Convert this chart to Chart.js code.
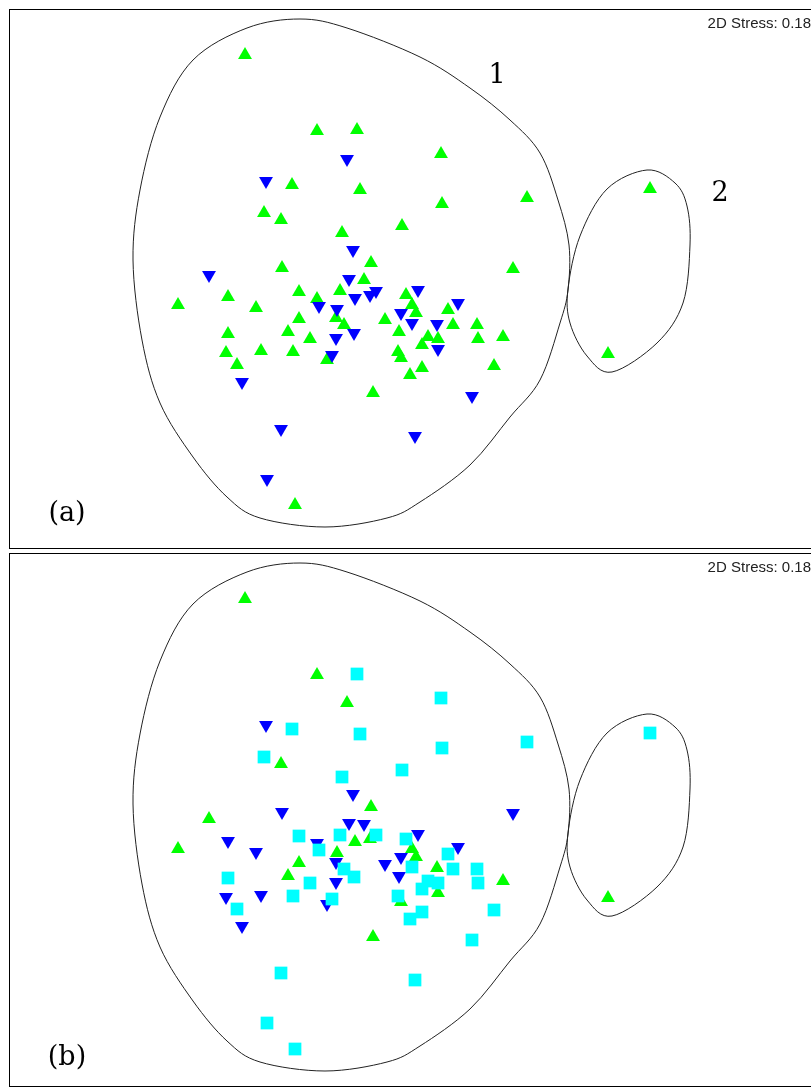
<!DOCTYPE html>
<html>
<head>
<meta charset="utf-8">
<script src="https://cdn.jsdelivr.net/npm/chart.js@4.4.0/dist/chart.umd.min.js"></script>
<style>
  html, body { margin: 0; padding: 0; background: #fff; overflow: hidden; }
  .panel { position: absolute; left: 9px; width: 900px; border: 1px solid #000; background: #fff; }
  #panel-a { top: 9px; height: 538px; }
  #panel-b { top: 553px; height: 532px; }
  canvas { display: block; }
</style>
</head>
<body>
<div class="panel" id="panel-a"><canvas id="chart-a" width="801" height="538"></canvas></div>
<div class="panel" id="panel-b"><canvas id="chart-b" width="801" height="532"></canvas></div>
<script>
// NMDS site scores (same ordination in both panels)
const siteX = [
  -1.55, -0.83, -0.43, -1.08, -0.40, -1.36, -1.19, -0.58, 0.02, 0.41,
  0.42, 1.27, 1.13, -0.29, -1.18, -0.36, -2.22, -1.72, -1.44, -1.01,
  -0.60, -0.83, 0.06, 0.12, 0.16, -0.64, -0.56, -1.01, -0.15, 0.48,
  0.53, 0.77, -1.72, -1.12, -0.90, -0.01, 0.28, 0.38, 0.78, 1.03,
  0.22, -1.74, -1.39, -1.07, -0.73, -0.02, 0.01, -1.63, 0.22, 0.10,
  0.94, -0.27, -1.05, 2.50, 2.08,
  -0.53, -1.34, -0.47, -1.91, -0.51, -0.45, -0.30, -0.24, 0.18, -0.81,
  -0.63, 0.01, 0.12, 0.58, 0.37, -0.64, -0.46, -0.68, 0.38, -1.58,
  0.72, -1.19, 0.15, -1.33
];
const siteY = [
  2.25, 1.49, 1.50, 0.95, 0.90, 0.67, 0.60, 0.47, 0.54, 1.26,
  0.76, 0.82, 0.11, 0.17, 0.12, 0.00, -0.25, -0.17, -0.28, -0.12,
  -0.11, -0.19, -0.15, -0.25, -0.33, -0.38, -0.45, -0.39, -0.40, -0.30,
  -0.45, -0.45, -0.54, -0.52, -0.59, -0.52, -0.57, -0.59, -0.59, -0.57,
  -0.65, -0.73, -0.71, -0.72, -0.80, -0.72, -0.78, -0.85, -0.88, -0.95,
  -0.86, -1.13, -2.25, 0.91, -0.74,
  1.21, 0.99, 0.30, 0.05, 0.01, -0.18, -0.15, -0.11, -0.10, -0.26,
  -0.29, -0.33, -0.43, -0.23, -0.44, -0.58, -0.53, -0.75, -0.69, -1.02,
  -1.16, -1.49, -1.56, -1.99
];
// group of each site: G = green up, B = blue down, C = cyan square
const factorA = (
  'GGGGGGGGGG' + 'GGGGGGGGGG' + 'GGGGGGGGGG' + 'GGGGGGGGGG' + 'GGGGGGGGGG' + 'GGGGG' +
  'BBBBBBBBBB' + 'BBBBBBBBBB' + 'BBBB'
).split('');
const factorB = (
  'GGCCCCGCCC' + 'CCBGBBGBBC' + 'CBCGGBCGBC' + 'CCCGCBCCCG' + 'CBBCBCGCCC' + 'CGCCG' +
  'GBBGBGGCBC' + 'GBCBGBCCGB' + 'CCCC'
).split('');

// cluster outlines
const hull1X = [-1.00, -0.53, 0.20, 0.70, 1.10, 1.40, 1.58, 1.69, 1.68, 1.60, 1.40, 1.10, 0.70,
  0.20, -0.13, -0.75, -1.40, -1.73, -2.07, -2.40, -2.58, -2.67, -2.60, -2.40, -2.07, -1.53];
const hull1Y = [2.61, 2.52, 2.23, 1.92, 1.60, 1.27, 0.80, 0.35, -0.10, -0.43, -1.00, -1.37, -1.85,
  -2.22, -2.38, -2.47, -2.38, -2.17, -1.77, -1.23, -0.60, 0.20, 0.90, 1.63, 2.20, 2.52];
const hull2X = [2.47, 2.75, 2.87, 2.90, 2.83, 2.57, 2.12, 1.87, 1.70, 1.68, 1.80, 2.07];
const hull2Y = [1.10, 0.97, 0.74, 0.35, -0.23, -0.63, -0.92, -0.76, -0.43, -0.09, 0.44, 0.91];

const groupStyle = {
  G: { color: '#00ff00', style: 'triangle', rot: 0, r: 8, order: 3 },
  B: { color: '#0000ff', style: 'triangle', rot: 180, r: 8, order: 2 },
  C: { color: '#00ffff', style: 'rect', rot: 0, r: 9, order: 1 }
};

function smoothClosed(ctx, pts) {
  const n = pts.length;
  ctx.beginPath();
  ctx.moveTo(pts[0][0], pts[0][1]);
  for (let i = 0; i < n; i++) {
    const p0 = pts[(i - 1 + n) % n], p1 = pts[i], p2 = pts[(i + 1) % n], p3 = pts[(i + 2) % n];
    ctx.bezierCurveTo(
      p1[0] + (p2[0] - p0[0]) / 6, p1[1] + (p2[1] - p0[1]) / 6,
      p2[0] - (p3[0] - p1[0]) / 6, p2[1] - (p3[1] - p1[1]) / 6,
      p2[0], p2[1]);
  }
  ctx.closePath();
  ctx.stroke();
}

const decorPlugin = {
  id: 'decor',
  beforeDatasetsDraw(chart) {
    const ctx = chart.ctx, xs = chart.scales.x, ys = chart.scales.y;
    ctx.save();
    ctx.strokeStyle = '#222';
    ctx.lineWidth = 1;
    smoothClosed(ctx, hull1X.map((v, i) => [xs.getPixelForValue(v), ys.getPixelForValue(hull1Y[i])]));
    smoothClosed(ctx, hull2X.map((v, i) => [xs.getPixelForValue(v), ys.getPixelForValue(hull2Y[i])]));
    ctx.restore();
  },
  afterDatasetsDraw(chart, args, opts) {
    const ctx = chart.ctx, xs = chart.scales.x, ys = chart.scales.y;
    ctx.save();
    ctx.fillStyle = '#222';
    ctx.font = '15px "Liberation Sans", Arial, sans-serif';
    ctx.textAlign = 'right';
    ctx.textBaseline = 'middle';
    ctx.fillText('2D Stress: 0.18', 801, 14);
    ctx.fillStyle = '#000';
    ctx.font = '27px "DejaVu Serif", serif';
    ctx.textAlign = 'center';
    ctx.fillText(opts.tag, 57, 504);
    if (opts.numbers) {
      ctx.fillText('1', xs.getPixelForValue(0.97), ys.getPixelForValue(2.04));
      ctx.fillText('2', xs.getPixelForValue(3.20), ys.getPixelForValue(0.86));
    }
    ctx.restore();
  }
};

function buildPanel(id, factor, yMin, tag, numbers) {
  const datasets = ['G', 'B', 'C'].map(g => {
    const s = groupStyle[g];
    const pts = [];
    factor.forEach((f, i) => { if (f === g) pts.push({ x: siteX[i], y: siteY[i] }); });
    return {
      data: pts,
      order: s.order,
      pointStyle: s.style,
      rotation: s.rot,
      pointRadius: s.r,
      backgroundColor: s.color,
      borderColor: s.color,
      borderWidth: 0
    };
  }).filter(d => d.data.length);

  return new Chart(document.getElementById(id), {
    type: 'scatter',
    data: { datasets },
    options: {
      responsive: false,
      animation: false,
      events: [],
      layout: { autoPadding: false, padding: 0 },
      plugins: {
        legend: { display: false },
        tooltip: { enabled: false },
        decor: { tag, numbers }
      },
      scales: {
        x: { type: 'linear', display: false, min: -3.90, max: 4.11 },
        y: { type: 'linear', display: false, min: yMin, max: 2.70 }
      }
    },
    plugins: [decorPlugin]
  });
}

buildPanel('chart-a', factorA, -2.68, '(a)', true);
buildPanel('chart-b', factorB, -2.62, '(b)', false);
</script>
</body>
</html>
